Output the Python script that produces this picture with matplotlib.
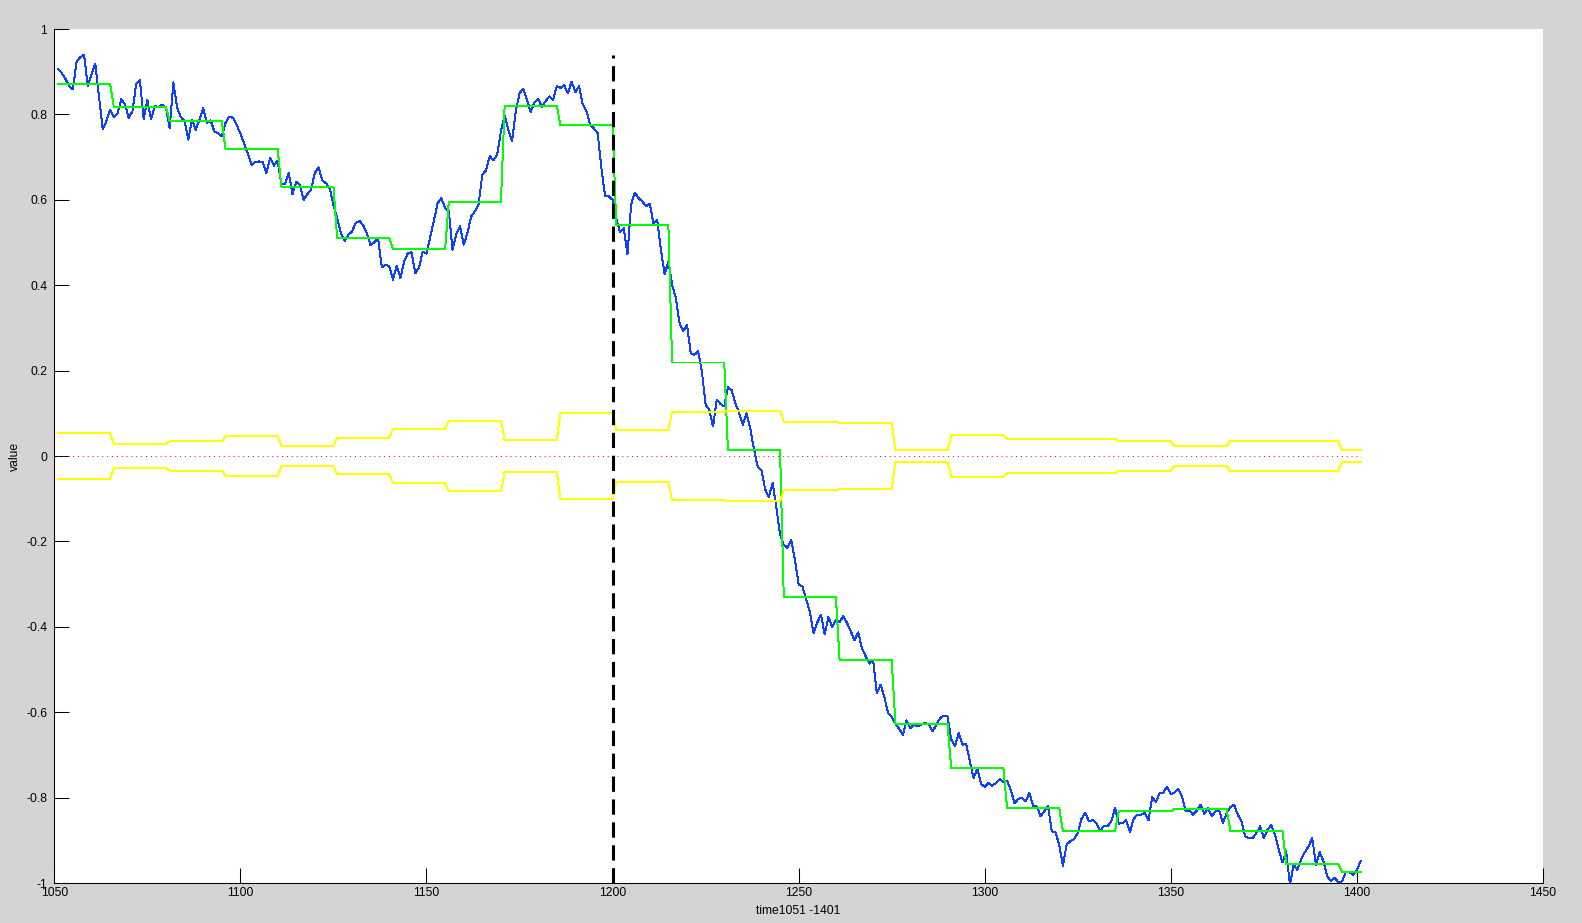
import matplotlib
matplotlib.use('Agg')
import matplotlib.pyplot as plt
import numpy as np

plt.rcParams['font.family'] = ['Liberation Sans', 'DejaVu Sans']
plt.rcParams['axes.unicode_minus'] = False

# time axis: 1051 .. 1401
t_start, t_end = 1051, 1401

# blue: raw signal, one value per time step
blue_values = [
    0.906, 0.897, 0.883, 0.866, 0.859, 0.924, 0.934, 0.940, 0.866, 0.893,   # 1051-
    0.919, 0.842, 0.766, 0.784, 0.811, 0.794, 0.802, 0.836, 0.823, 0.792,   # 1061-
    0.807, 0.872, 0.880, 0.789, 0.834, 0.788, 0.820, 0.817, 0.823, 0.815,   # 1071-
    0.768, 0.875, 0.815, 0.794, 0.784, 0.741, 0.788, 0.764, 0.788, 0.815,   # 1081-
    0.780, 0.786, 0.760, 0.756, 0.749, 0.780, 0.795, 0.792, 0.776, 0.755,   # 1091-
    0.732, 0.708, 0.682, 0.688, 0.690, 0.688, 0.663, 0.698, 0.680, 0.692,   # 1101-
    0.637, 0.637, 0.663, 0.613, 0.642, 0.635, 0.600, 0.613, 0.624, 0.663,   # 1111-
    0.676, 0.645, 0.639, 0.627, 0.588, 0.557, 0.522, 0.504, 0.518, 0.526,   # 1121-
    0.546, 0.551, 0.540, 0.522, 0.493, 0.501, 0.509, 0.442, 0.448, 0.444,   # 1131-
    0.413, 0.446, 0.417, 0.456, 0.475, 0.477, 0.428, 0.442, 0.479, 0.474,   # 1141-
    0.512, 0.552, 0.592, 0.604, 0.581, 0.573, 0.483, 0.520, 0.538, 0.495,   # 1151-
    0.522, 0.561, 0.573, 0.589, 0.659, 0.669, 0.702, 0.692, 0.706, 0.760,   # 1161-
    0.798, 0.764, 0.737, 0.807, 0.850, 0.860, 0.834, 0.806, 0.827, 0.837,   # 1171-
    0.817, 0.831, 0.842, 0.834, 0.866, 0.862, 0.868, 0.850, 0.877, 0.852,   # 1181-
    0.866, 0.823, 0.807, 0.776, 0.767, 0.756, 0.674, 0.608, 0.608, 0.600,   # 1191-
    0.555, 0.524, 0.534, 0.472, 0.590, 0.617, 0.604, 0.596, 0.585, 0.591,   # 1201-
    0.544, 0.552, 0.483, 0.425, 0.456, 0.401, 0.370, 0.311, 0.293, 0.307,   # 1211-
    0.241, 0.237, 0.245, 0.198, 0.120, 0.108, 0.069, 0.132, 0.122, 0.116,   # 1221-
    0.161, 0.154, 0.124, 0.100, 0.073, 0.100, 0.065, 0.015, -0.025, -0.034, # 1231-
    -0.078, -0.096, -0.063, -0.120, -0.184, -0.208, -0.215, -0.196, -0.243, -0.301,  # 1241-
    -0.305, -0.335, -0.364, -0.415, -0.390, -0.372, -0.418, -0.377, -0.400, -0.385,  # 1251-
    -0.389, -0.375, -0.391, -0.410, -0.432, -0.413, -0.450, -0.469, -0.486, -0.477,  # 1261-
    -0.555, -0.536, -0.563, -0.602, -0.611, -0.627, -0.639, -0.653, -0.619, -0.637,  # 1271-
    -0.629, -0.633, -0.629, -0.625, -0.629, -0.645, -0.629, -0.614, -0.608, -0.610,  # 1281-
    -0.664, -0.680, -0.649, -0.676, -0.674, -0.715, -0.754, -0.732, -0.768, -0.775,  # 1291-
    -0.766, -0.772, -0.766, -0.757, -0.764, -0.760, -0.782, -0.813, -0.803, -0.801,  # 1301-
    -0.809, -0.789, -0.819, -0.821, -0.844, -0.832, -0.819, -0.879, -0.881, -0.910,  # 1311-
    -0.960, -0.910, -0.902, -0.897, -0.883, -0.850, -0.835, -0.856, -0.852, -0.860,  # 1321-
    -0.879, -0.866, -0.867, -0.856, -0.824, -0.861, -0.860, -0.853, -0.881, -0.850,  # 1331-
    -0.840, -0.840, -0.836, -0.853, -0.799, -0.811, -0.789, -0.788, -0.774, -0.792,  # 1341-
    -0.788, -0.780, -0.797, -0.832, -0.830, -0.840, -0.830, -0.817, -0.838, -0.824,  # 1351-
    -0.844, -0.832, -0.830, -0.860, -0.836, -0.822, -0.817, -0.840, -0.856, -0.891,  # 1361-
    -0.895, -0.895, -0.883, -0.867, -0.895, -0.875, -0.864, -0.887, -0.922, -0.952,  # 1371-
    -0.926, -1.004, -0.957, -0.969, -0.945, -0.928, -0.914, -0.895, -0.957, -0.928,  # 1381-
    -0.949, -0.984, -0.996, -0.988, -0.998, -0.996, -0.975, -0.975, -0.981, -0.969,  # 1391-
    -0.949,                                                                          # 1401
]

# piecewise constant series, 15 steps per block (last block is short)
block_lengths = [15] * 23 + [6]

# green: block level of the signal
green_levels = [
    0.871, 0.817, 0.785, 0.720, 0.631, 0.510, 0.484, 0.595, 0.820, 0.775,
    0.540, 0.219, 0.014, -0.330, -0.478, -0.627, -0.731, -0.824, -0.878, -0.832,
    -0.827, -0.878, -0.955, -0.974,
]

# yellow: +/- band half width per block
band_levels = [
    0.053, 0.029, 0.034, 0.046, 0.0245, 0.043, 0.064, 0.083, 0.038, 0.1015,
    0.060, 0.1035, 0.106, 0.0805, 0.078, 0.0133, 0.0483, 0.0405, 0.0405, 0.0343,
    0.0225, 0.0358, 0.034, 0.0148,
]

split_time = 1200
x_ticks = [1050, 1100, 1150, 1200, 1250, 1300, 1350, 1400, 1450]
y_ticks = [-1, -0.8, -0.6, -0.4, -0.2, 0, 0.2, 0.4, 0.6, 0.8, 1]
y_ticklabels = ['-1', '-0.8', '-0.6', '-0.4', '-0.2', '0',
                '0.2', '0.4', '0.6', '0.8', '1']

t = np.arange(t_start, t_end + 1)
blue = np.array(blue_values)
green = np.repeat(green_levels, block_lengths)
band = np.repeat(band_levels, block_lengths)

W, H = 1582, 923
fig = plt.figure(figsize=(W / 100, H / 100), dpi=100, facecolor='#d4d4d4')
ax = fig.add_axes([54.3 / W, 1 - 883 / H, (1543 - 54.3) / W, (883 - 29) / H])
ax.set_facecolor('white')

lw = 0.7
ax.plot(t, blue, color='#1040ff', lw=lw, antialiased=False)
ax.plot(t, green, color='#00ff00', lw=lw, antialiased=False)
ax.plot(t, band, color='#ffff00', lw=lw, antialiased=False)
ax.plot(t, -band, color='#ffff00', lw=lw, antialiased=False)
ax.plot(t, np.zeros_like(t, dtype=float), color='red', lw=0.7,
        linestyle=(0, (1, 4)))
ax.plot([split_time, split_time], [-1, 0.94], color='black', lw=2.2,
        linestyle=(0, (5, 2.5)))

ax.set_xlim(1050, 1450)
ax.set_ylim(-1, 1)
ax.set_xticks(x_ticks)
ax.set_xticklabels([str(v) for v in x_ticks])
ax.set_yticks(y_ticks)
ax.set_yticklabels(y_ticklabels)

for side in ['top', 'right']:
    ax.spines[side].set_visible(False)
for side in ['left', 'bottom']:
    ax.spines[side].set_linewidth(0.75)
ax.tick_params(axis='both', direction='in', length=10.5, width=0.75,
               labelsize=8.7, colors='black')
ax.tick_params(axis='x', pad=3)
ax.tick_params(axis='y', pad=5)

ax.set_xlabel('time1051 -1401', fontsize=8.7)
ax.set_ylabel('value', fontsize=8.7)
ax.xaxis.set_label_coords(0.5, -0.026)
ax.yaxis.set_label_coords(-0.0224, 0.5)

fig.savefig('out.png', dpi=100, facecolor=fig.get_facecolor())
